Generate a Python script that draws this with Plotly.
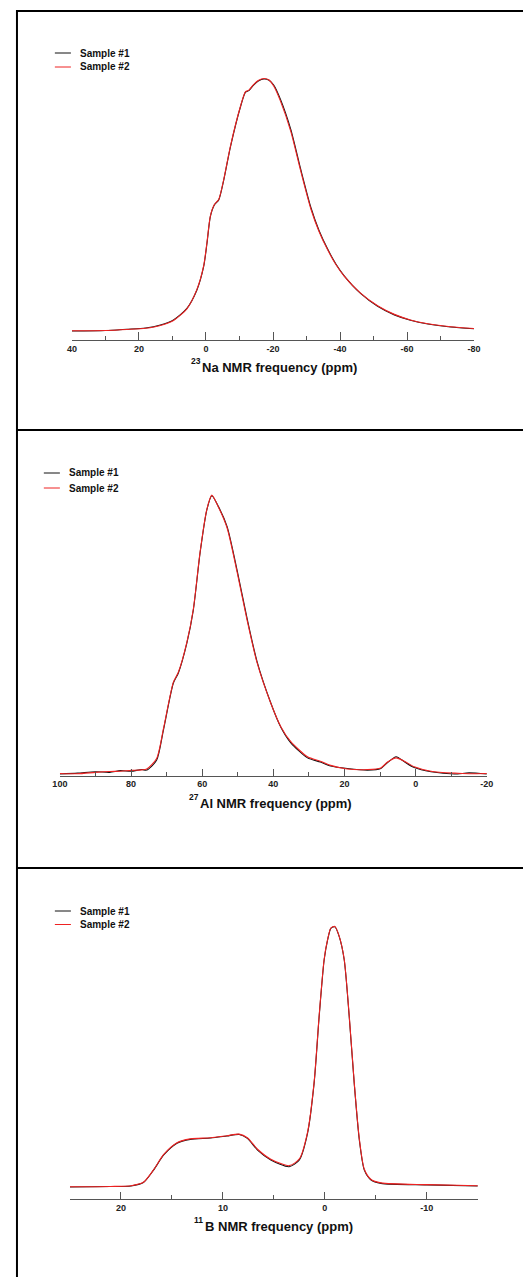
import plotly.graph_objects as go

# ---- data (ppm, normalised intensity) ----
NA_PPM = [40, 30, 23.6, 18, 13.6, 9.7, 5.7, 2.7, 0.7, -0.3, -1.3, -2.5, -3.8, -5.3, -7.3,
          -10.3, -11.8, -12.8, -14.2, -15.6, -17.3, -18.8, -20.2, -22.2, -25.3, -28.2,
          -31.3, -33.7, -36.3, -38.8, -41.3, -46.2, -51.2, -56.2, -61, -66.2, -73, -80]
NA_S1 = [0.000, 0.002, 0.007, 0.012, 0.024, 0.044, 0.090, 0.163, 0.255, 0.348, 0.454,
         0.500, 0.520, 0.599, 0.731, 0.890, 0.948, 0.954, 0.976, 0.992, 1.000, 0.995,
         0.976, 0.920, 0.800, 0.645, 0.490, 0.400, 0.325, 0.265, 0.218, 0.148, 0.098,
         0.064, 0.043, 0.028, 0.016, 0.009]
NA_S2 = [0.001, 0.002, 0.006, 0.011, 0.022, 0.042, 0.088, 0.165, 0.258, 0.352, 0.456,
         0.502, 0.522, 0.602, 0.734, 0.892, 0.950, 0.956, 0.978, 0.994, 1.002, 0.996,
         0.972, 0.913, 0.792, 0.638, 0.484, 0.396, 0.322, 0.263, 0.217, 0.149, 0.100,
         0.066, 0.044, 0.029, 0.017, 0.010]
NA_TICKS = [40, 20, 0, -20, -40, -60, -80]

AL_PPM = [100, 95, 90, 86, 83, 80, 77, 75.6, 72.8, 70.9, 68.1, 66.7, 64.3, 62.5, 60.6,
          58.7, 57.3, 55.4, 53.0, 50.2, 47.4, 44.6, 40.8, 37.9, 35.1, 30.4, 26.8, 23.9,
          19.2, 13.5, 9.8, 7.9, 5.5, 3.2, 0.4, -4.3, -10.9, -15, -20]
AL_S1 = [0.000, 0.003, 0.008, 0.006, 0.012, 0.010, 0.016, 0.014, 0.050, 0.158, 0.327,
         0.363, 0.471, 0.589, 0.794, 0.949, 1.000, 0.960, 0.889, 0.733, 0.560, 0.405,
         0.258, 0.168, 0.112, 0.058, 0.043, 0.029, 0.020, 0.014, 0.020, 0.041, 0.062,
         0.044, 0.023, 0.008, 0.000, 0.004, 0.000]
AL_S2 = [0.002, 0.001, 0.006, 0.009, 0.010, 0.013, 0.015, 0.018, 0.056, 0.162, 0.330,
         0.366, 0.474, 0.592, 0.797, 0.951, 1.002, 0.958, 0.884, 0.726, 0.554, 0.401,
         0.257, 0.170, 0.116, 0.062, 0.046, 0.031, 0.018, 0.016, 0.022, 0.043, 0.058,
         0.046, 0.026, 0.010, 0.003, 0.001, 0.002]
AL_TICKS = [100, 80, 60, 40, 20, 0, -20]

B_PPM = [25, 21, 19.0, 17.8, 16.8, 15.8, 14.5, 13.2, 11.2, 9.6, 8.4, 7.6, 6.6, 5.3, 3.5,
         2.5, 1.7, 1.05, 0.56, 0.07, -0.27, -0.59, -0.98, -1.41, -1.9, -2.39, -2.88,
         -3.38, -3.87, -4.53, -5.5, -10, -15]
B_S1 = [0.000, 0.002, 0.004, 0.017, 0.065, 0.123, 0.168, 0.183, 0.188, 0.196, 0.202,
        0.187, 0.142, 0.104, 0.078, 0.104, 0.206, 0.400, 0.654, 0.872, 0.949, 0.994,
        1.000, 0.962, 0.872, 0.654, 0.398, 0.181, 0.065, 0.027, 0.014, 0.008, 0.004]
B_S2 = [0.001, 0.002, 0.005, 0.018, 0.066, 0.125, 0.170, 0.185, 0.189, 0.197, 0.203,
        0.189, 0.145, 0.107, 0.082, 0.108, 0.210, 0.404, 0.658, 0.875, 0.951, 0.995,
        1.001, 0.963, 0.874, 0.658, 0.402, 0.185, 0.068, 0.029, 0.016, 0.009, 0.005]
B_TICKS = [20, 10, 0, -10]

SERIES = ['Sample #1', 'Sample #2']
COLORS = ['#111111', '#ee2222']

# figure sits inside the page's 8px body margin; the snapshot shows page x as
# roughly 0.968 * x + 8.5, so target positions below are in snapshot pixels
OX, OY = 8, 8
SX, SHIFT = 0.968, 8.5
W, H = 515, 1269
FONT = 'Liberation Sans'
AXIS_COL = '#555555'

# snapshot-pixel layout of each panel (plot area, spectrum baseline/peak, legend, title)
panels = [
    dict(ppm=NA_PPM, ys=[NA_S1, NA_S2], ticks=NA_TICKS, rng=[40, -80], minor=10,
         x0=72, x1=473, ybot=340, ytop=60, base=331, peak=79, ticklen=8,
         sup='23', title='Na NMR frequency (ppm)', title_x=201, title_y=367,
         leg_x=55, leg_y=[53, 67]),
    dict(ppm=AL_PPM, ys=[AL_S1, AL_S2], ticks=AL_TICKS, rng=[100, -20], minor=10,
         x0=60, x1=485.7, ybot=775.5, ytop=480, base=774, peak=495.7, ticklen=7,
         sup='27', title='Al NMR frequency (ppm)', title_x=199, title_y=803,
         leg_x=44, leg_y=[473, 488]),
    dict(ppm=B_PPM, ys=[B_S1, B_S2], ticks=B_TICKS, rng=[25, -15], minor=5,
         x0=70, x1=476.7, ybot=1199, ytop=900, base=1187, peak=926.7, ticklen=7,
         sup='11', title='B NMR frequency (ppm)', title_x=203.5, title_y=1226,
         leg_x=55, leg_y=[911, 924.5]),
]


def fx(p):
    return ((p - SHIFT) / SX - OX) / W


def fy(p):
    return 1 - (p - OY) / H


fig = go.Figure()
shapes = []
annotations = []

for i, p in enumerate(panels):
    n = '' if i == 0 else str(i + 1)
    for k in range(2):
        fig.add_trace(go.Scatter(
            x=p['ppm'], y=p['ys'][k], mode='lines', name=SERIES[k],
            line=dict(color=COLORS[k], width=1.1, shape='spline', smoothing=0.7),
            xaxis='x' + n, yaxis='y' + n, showlegend=False
        ))

    scale = p['base'] - p['peak']
    y_lo = -(p['ybot'] - p['base']) / scale
    y_hi = (p['base'] - p['ytop']) / scale

    fig.update_layout(**{
        'xaxis' + n: dict(
            domain=[fx(p['x0']), fx(p['x1'])], anchor='y' + n, range=p['rng'],
            tickmode='array', tickvals=p['ticks'], ticktext=[str(t) for t in p['ticks']],
            ticks='inside', ticklen=p['ticklen'], tickwidth=1, tickcolor=AXIS_COL,
            minor=dict(ticks='inside', ticklen=4, tickwidth=1, tickcolor=AXIS_COL,
                       tickmode='linear', tick0=0, dtick=p['minor']),
            showline=True, linecolor=AXIS_COL, linewidth=1,
            showgrid=False, zeroline=False,
            tickfont=dict(family=FONT, size=9, color='#222222', weight='bold'),
        ),
        'yaxis' + n: dict(
            domain=[fy(p['ybot']), fy(p['ytop'])], anchor='x' + n, range=[y_lo, y_hi],
            visible=False,
        ),
    })

    # axis title: isotope number as a small raised label, then the rest
    annotations.append(dict(
        x=fx(p['title_x']), y=fy(p['title_y']), xref='paper', yref='paper',
        text=p['title'], showarrow=False, xanchor='left', yanchor='middle',
        borderpad=0, font=dict(family=FONT, size=13, color='#111111', weight='bold')
    ))
    annotations.append(dict(
        x=fx(p['title_x'] + 0.5), y=fy(p['title_y'] - 6), xref='paper', yref='paper',
        text=p['sup'], showarrow=False, xanchor='right', yanchor='middle',
        borderpad=0, font=dict(family=FONT, size=8.5, color='#111111', weight='bold')
    ))

    # legend: short line sample + label
    for k in range(2):
        ly = p['leg_y'][k]
        shapes.append(dict(type='line', xref='paper', yref='paper',
                           x0=fx(p['leg_x']), x1=fx(p['leg_x'] + 16), y0=fy(ly), y1=fy(ly),
                           line=dict(color=COLORS[k], width=1)))
        annotations.append(dict(
            x=fx(p['leg_x'] + 23), y=fy(ly), xref='paper', yref='paper',
            text=SERIES[k], showarrow=False, xanchor='left', yanchor='middle',
            font=dict(family=FONT, size=10, color='#111111', weight='bold')
        ))

# panel frames (left edge can go no further than the page margin)
for yy in [11, 430, 868]:
    shapes.append(dict(type='line', xref='paper', yref='paper', x0=0, x1=1.05,
                       y0=fy(yy), y1=fy(yy), line=dict(color='black', width=2)))
shapes.append(dict(type='line', xref='paper', yref='paper', x0=1 / W, x1=1 / W,
                   y0=-0.05, y1=fy(10), line=dict(color='black', width=2)))

fig.update_layout(
    width=W, height=H,
    margin=dict(l=0, r=0, t=0, b=0),
    paper_bgcolor='white', plot_bgcolor='white',
    shapes=shapes, annotations=annotations,
)

fig.write_html("out.html")
